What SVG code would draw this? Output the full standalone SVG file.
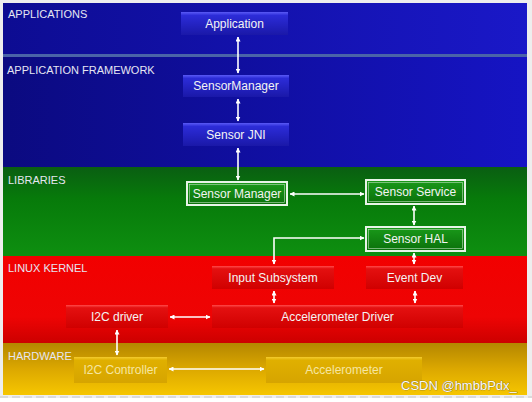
<svg xmlns="http://www.w3.org/2000/svg" width="532" height="402" viewBox="0 0 532 402">
<defs>
<linearGradient id="gBlueA" x1="0" y1="0" x2="1" y2="0"><stop offset="0" stop-color="#0d0c92"/><stop offset="1" stop-color="#1a18c8"/></linearGradient>
<linearGradient id="gBlueF" x1="0" y1="0" x2="1" y2="0"><stop offset="0" stop-color="#0b0a80"/><stop offset="1" stop-color="#1614c4"/></linearGradient>
<linearGradient id="gGreen" x1="0" y1="0" x2="0" y2="1"><stop offset="0" stop-color="#0a5e12"/><stop offset="0.35" stop-color="#077a0a"/><stop offset="1" stop-color="#0e8f10"/></linearGradient>
<linearGradient id="gRed" x1="0" y1="0" x2="0" y2="1"><stop offset="0" stop-color="#f20000"/><stop offset="0.7" stop-color="#ee0404"/><stop offset="1" stop-color="#cc0000"/></linearGradient>
<linearGradient id="gYellow" x1="0" y1="0" x2="0" y2="1"><stop offset="0" stop-color="#b48600"/><stop offset="0.5" stop-color="#dca800"/><stop offset="1" stop-color="#f6c600"/></linearGradient>
<linearGradient id="nBlue" x1="0" y1="0" x2="0" y2="1"><stop offset="0" stop-color="#5a5af6"/><stop offset="0.15" stop-color="#2c2cd8"/><stop offset="1" stop-color="#1a18a8"/></linearGradient>
<linearGradient id="nGreen" x1="0" y1="0" x2="0" y2="1"><stop offset="0" stop-color="#1a9a1a"/><stop offset="1" stop-color="#0a700a"/></linearGradient>
<linearGradient id="nRed" x1="0" y1="0" x2="0" y2="1"><stop offset="0" stop-color="#ff4a4a"/><stop offset="0.12" stop-color="#e41010"/><stop offset="1" stop-color="#d00000"/></linearGradient>
<linearGradient id="nYellow" x1="0" y1="0" x2="0" y2="1"><stop offset="0" stop-color="#f4cc30"/><stop offset="0.12" stop-color="#e0b000"/><stop offset="1" stop-color="#d6a400"/></linearGradient>
<marker id="ah" viewBox="0 0 10 10" refX="9" refY="5" markerWidth="5" markerHeight="5" markerUnits="userSpaceOnUse" orient="auto-start-reverse"><path d="M0,0 L10,5 L0,10 z" fill="#ffffff"/></marker>
</defs>
<style>
.band{font-family:"Liberation Sans",Arial,sans-serif;font-size:11px;fill:#e6e6f2}
.lbl{font-family:"Liberation Sans",Arial,sans-serif;font-size:12px;fill:#f4f4f4;text-anchor:middle;dominant-baseline:central}
.con{stroke:#ffffff;stroke-width:1.6;fill:none;marker-start:url(#ah);marker-end:url(#ah)}
.gbox{fill:url(#nGreen);stroke:#e8f4e8;stroke-width:2}
.gin{fill:none;stroke:#bfe0bf;stroke-width:0.6}
</style>
<rect x="0" y="0" width="532" height="402" fill="#eeeeee"/>
<rect x="0" y="398" width="532" height="4" fill="#ffffff"/>
<line x1="0" y1="397" x2="532" y2="397" stroke="#d4d4d4" stroke-width="1.5" stroke-dasharray="8 4"/>
<!-- bands -->
<rect x="3" y="3" width="524" height="52" fill="url(#gBlueA)"/>
<rect x="3" y="54" width="524" height="3" fill="#4a64a8"/>
<rect x="3" y="57" width="524" height="110" fill="url(#gBlueF)"/>
<rect x="3" y="167" width="524" height="89" fill="url(#gGreen)"/>
<rect x="3" y="256" width="524" height="87" fill="url(#gRed)"/>
<rect x="3" y="343" width="524" height="52" fill="url(#gYellow)"/>
<text class="band" x="8" y="18">APPLICATIONS</text>
<text class="band" x="7" y="74">APPLICATION FRAMEWORK</text>
<text class="band" x="8" y="184">LIBRARIES</text>
<text class="band" x="8" y="272">LINUX KERNEL</text>
<text class="band" x="8" y="360">HARDWARE</text>
<!-- nodes -->
<g id="application"><rect x="181" y="12" width="107" height="23" fill="url(#nBlue)"/><text class="lbl" x="234.5" y="24">Application</text></g>
<g id="sensormanager-fw"><rect x="183" y="75" width="106" height="22" fill="url(#nBlue)"/><text class="lbl" x="236" y="86">SensorManager</text></g>
<g id="sensor-jni"><rect x="183" y="123" width="106" height="23" fill="url(#nBlue)"/><text class="lbl" x="236" y="134.5">Sensor JNI</text></g>
<g id="sensor-manager-lib"><rect class="gbox" x="187" y="182" width="100" height="23"/><rect class="gin" x="189.5" y="184.5" width="95" height="18"/><text class="lbl" x="237" y="193.5">Sensor Manager</text></g>
<g id="sensor-service"><rect class="gbox" x="366" y="180" width="99" height="24"/><rect class="gin" x="368.5" y="182.5" width="94" height="19"/><text class="lbl" x="415.5" y="192">Sensor Service</text></g>
<g id="sensor-hal"><rect class="gbox" x="366" y="227" width="99" height="24"/><rect class="gin" x="368.5" y="229.5" width="94" height="19"/><text class="lbl" x="415.5" y="239">Sensor HAL</text></g>
<g id="input-subsystem"><rect x="212" y="266" width="122" height="23" fill="url(#nRed)"/><text class="lbl" x="273" y="277.5">Input Subsystem</text></g>
<g id="event-dev"><rect x="366" y="266" width="97" height="23" fill="url(#nRed)"/><text class="lbl" x="414.5" y="277.5">Event Dev</text></g>
<g id="i2c-driver"><rect x="66" y="305" width="102" height="23" fill="url(#nRed)"/><text class="lbl" x="117" y="316.5">I2C driver</text></g>
<g id="accelerometer-driver"><rect x="212" y="305" width="251" height="23" fill="url(#nRed)"/><text class="lbl" x="337.5" y="316.5">Accelerometer Driver</text></g>
<g id="i2c-controller"><rect x="74" y="357" width="93" height="26" fill="url(#nYellow)"/><text class="lbl" x="120.5" y="370" style="fill:#f6e6a0">I2C Controller</text></g>
<g id="accelerometer"><rect x="266" y="357" width="156" height="26" fill="url(#nYellow)"/><text class="lbl" x="344" y="370" style="fill:#f6e6a0">Accelerometer</text></g>
<!-- connectors -->
<g id="connectors">
<line class="con" x1="238" y1="37" x2="238" y2="73"/>
<line class="con" x1="238" y1="99" x2="238" y2="121"/>
<line class="con" x1="238" y1="148" x2="238" y2="180"/>
<line class="con" x1="290" y1="194" x2="364" y2="194"/>
<line class="con" x1="414" y1="206" x2="414" y2="225"/>
<path class="con" d="M364,238 H274 V264"/>
<line class="con" x1="414" y1="253" x2="414" y2="264"/>
<line class="con" x1="274" y1="291" x2="274" y2="303"/>
<line class="con" x1="415" y1="291" x2="415" y2="303"/>
<line class="con" x1="170" y1="317" x2="210" y2="317"/>
<line class="con" x1="117" y1="330" x2="117" y2="355"/>
<line class="con" x1="169" y1="369" x2="264" y2="369"/>
</g>
<text x="401" y="390" style="font-family:'Liberation Sans',Arial,sans-serif;font-size:13px;fill:#fafafa;stroke:#7a6a30;stroke-width:0.6;paint-order:stroke">CSDN @hmbbPdx_</text>
</svg>
